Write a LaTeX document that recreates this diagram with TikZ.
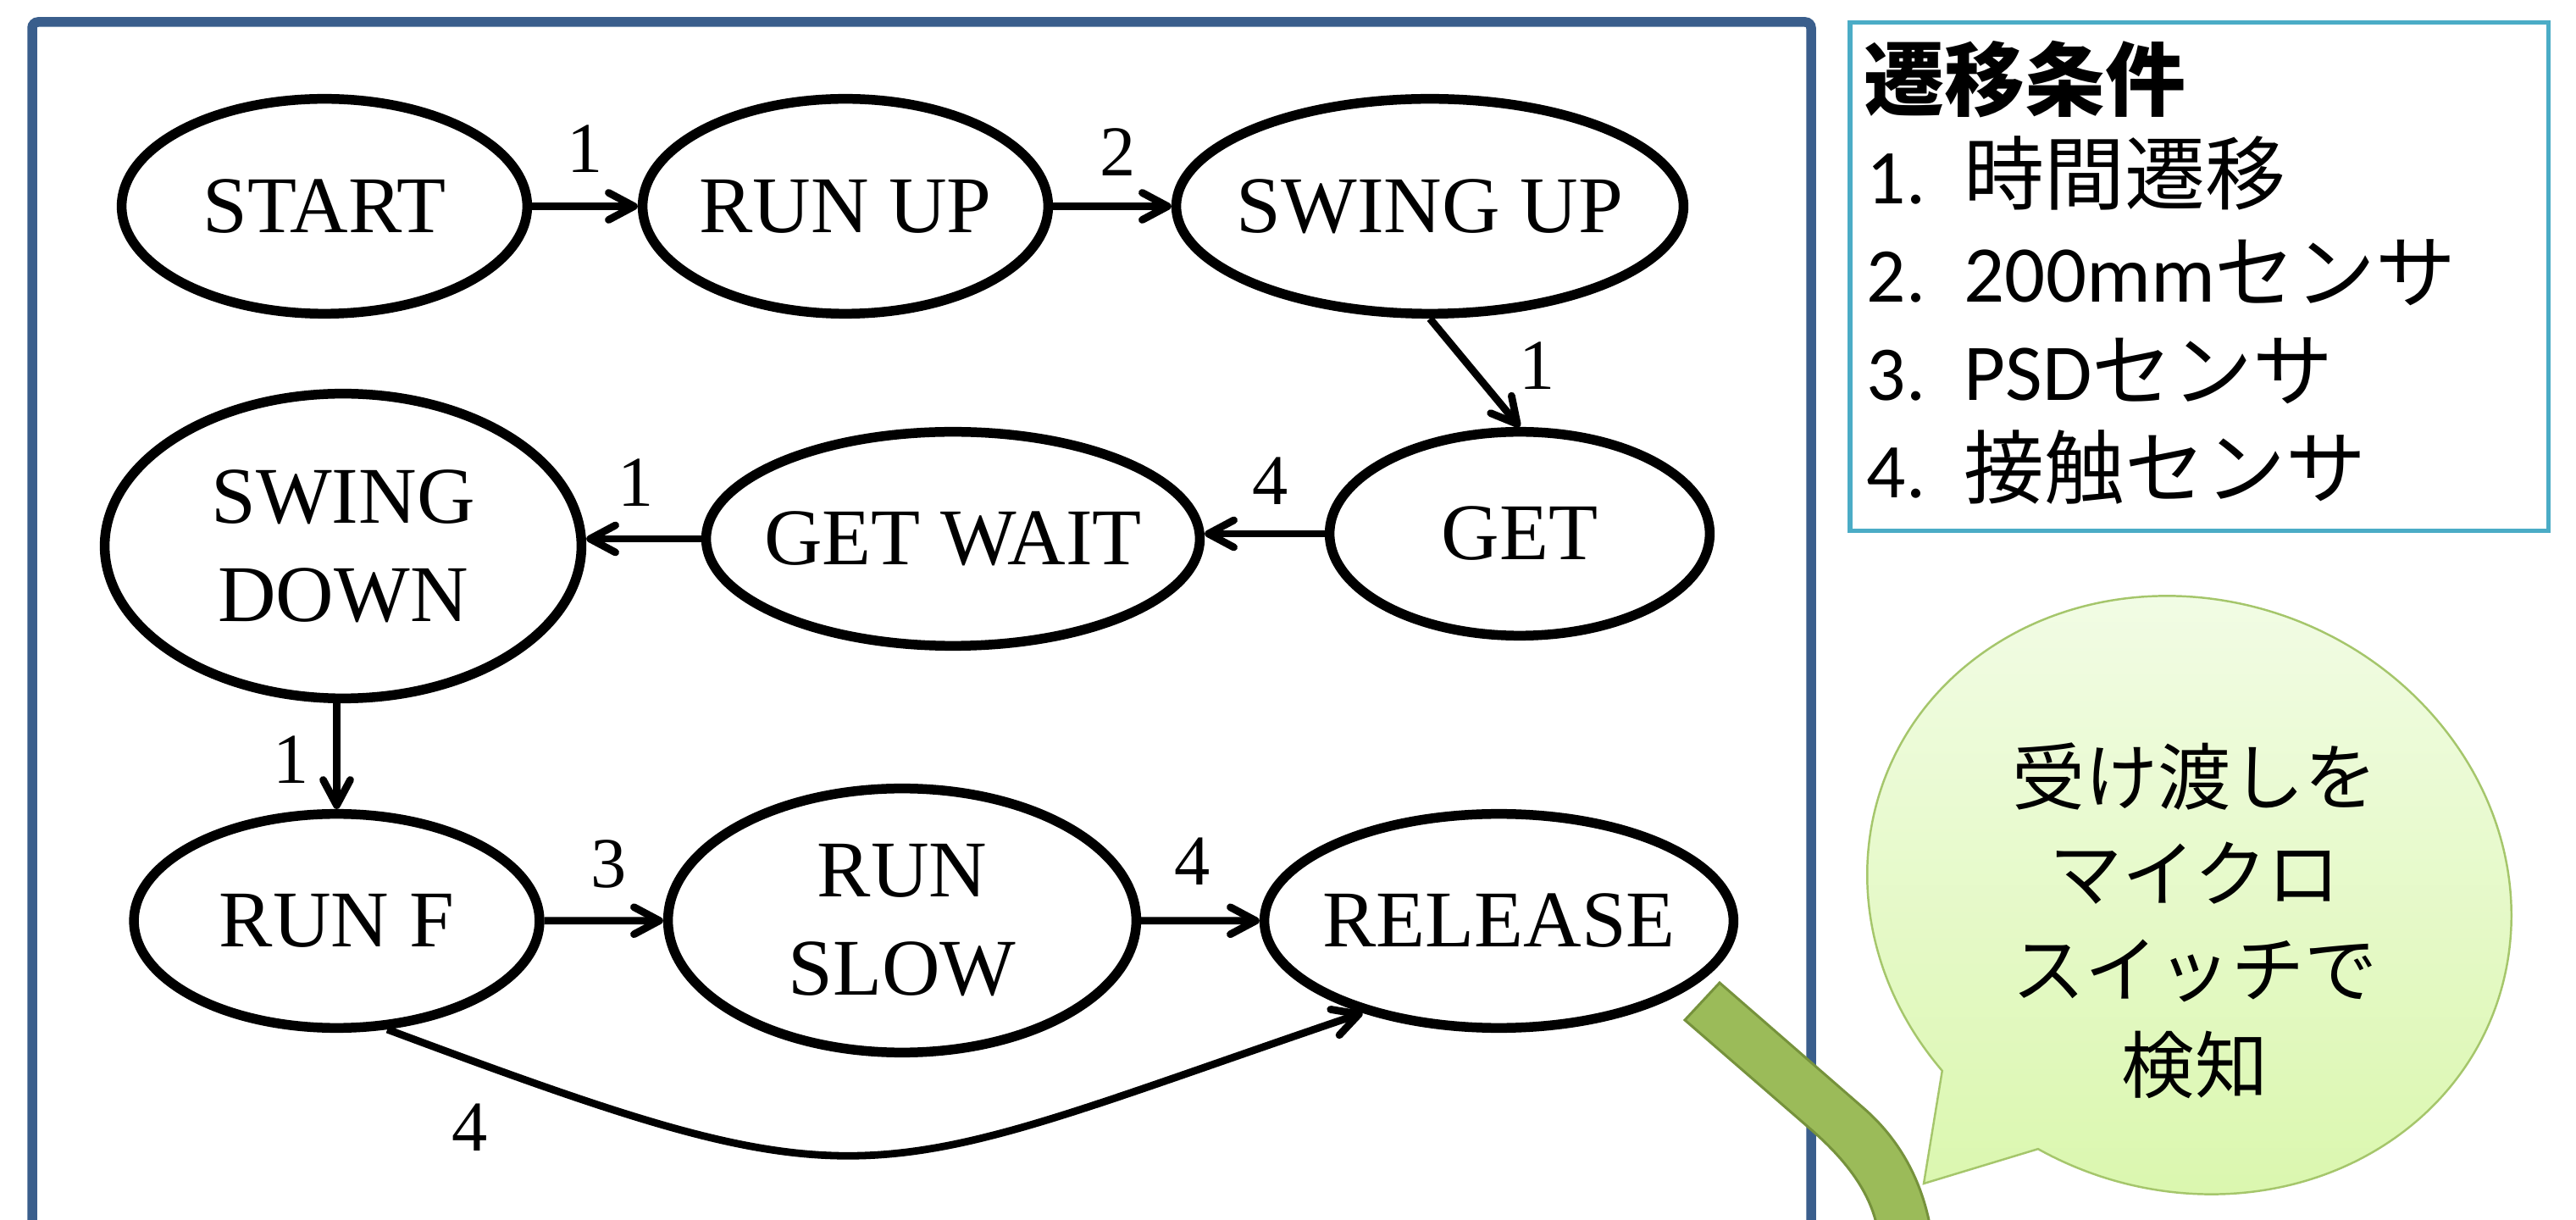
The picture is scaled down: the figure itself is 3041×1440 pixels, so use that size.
\documentclass[tikz,border=0pt]{standalone}
\usepackage{fontspec}
\setmainfont{Liberation Serif}
\newfontfamily\jpfont{Noto Sans CJK JP}
\newfontfamily\latinsans{Carlito}
\usetikzlibrary{shapes.geometric,arrows.meta}

\definecolor{framecol}{HTML}{3A5E8C}
\definecolor{legendcol}{HTML}{4BACC6}
\definecolor{bandfill}{HTML}{9BBB59}
\definecolor{banddraw}{HTML}{76923C}
\definecolor{bubbledraw}{HTML}{A5C66B}
\definecolor{bubbletop}{HTML}{F3FCE8}
\definecolor{bubblebottom}{HTML}{DAF7AD}

\begin{document}
\begin{tikzpicture}[
  x=0.01cm, y=-0.01cm,
  stnode/.style={ellipse, draw=black, line width=3.27pt, inner sep=0pt, fill=white},
  sttext/.style={font=\fontsize{27}{33}\selectfont, inner sep=0pt, align=center},
  condlbl/.style={font=\fontsize{24}{29}\selectfont, inner sep=0pt},
  transarrow/.style={line width=2.5pt, -{Straight Barb[length=0.3cm, width=0.32cm, round]}},
  legtitle/.style={anchor=base west, inner sep=0pt, font=\jpfont\bfseries\fontsize{27}{32}\selectfont},
  legnum/.style={anchor=base west, inner sep=0pt, font=\latinsans\fontsize{26}{32}\selectfont},
  legitem/.style={anchor=base west, inner sep=0pt, font=\jpfont\fontsize{27}{32}\selectfont},
]
\useasboundingbox (0,0) rectangle (3041,1440);
\fill[white] (0,0) rectangle (3041,1440);

% outer frame of the state diagram (continues below the page)
\draw[framecol, line width=3.27pt, rounded corners=2pt]
  (38,1520) -- (38,26) -- (2138,26) -- (2138,1520);

% states
\node[stnode, minimum width=4.785cm, minimum height=2.535cm,
      label={[sttext]center:START}] (start) at (383,243.5) {};
\node[stnode, minimum width=4.785cm, minimum height=2.535cm,
      label={[sttext]center:RUN UP}] (runup) at (998,243.5) {};
\node[stnode, minimum width=5.985cm, minimum height=2.535cm,
      label={[sttext]center:SWING UP}] (swingup) at (1688,243.5) {};
\node[stnode, minimum width=4.485cm, minimum height=2.405cm,
      label={[sttext]center:GET}] (get) at (1794,630) {};
\node[stnode, minimum width=5.825cm, minimum height=2.525cm,
      label={[sttext]center:GET WAIT}] (getwait) at (1125,636) {};
\node[stnode, minimum width=5.625cm, minimum height=3.595cm,
      label={[sttext]center:{SWING\\DOWN}}] (swingdown) at (405,644.5) {};
\node[stnode, minimum width=4.785cm, minimum height=2.525cm,
      label={[sttext]center:RUN F}] (runf) at (397.5,1087) {};
\node[stnode, minimum width=5.525cm, minimum height=3.115cm,
      label={[sttext]center:{RUN\\SLOW}}] (runslow) at (1065,1086.5) {};
\node[stnode, minimum width=5.535cm, minimum height=2.525cm,
      label={[sttext]center:RELEASE}] (release) at (1769.5,1087) {};

% transitions
\draw[transarrow] (start) -- (runup);
\draw[transarrow] (runup) -- (swingup);
\draw[transarrow] (swingup.south) -- (get.north);
\draw[transarrow] (get.west) -- (get.west -| getwait.east);
\draw[transarrow] (getwait.west) -- (getwait.west -| swingdown.east);
\draw[transarrow] (swingdown.south -| runf.north) -- (runf.north);
\draw[transarrow] (runf) -- (runslow);
\draw[transarrow] (runslow) -- (release);
\draw[transarrow] (runf.-65) .. controls (1042,1433) and (1009,1399) .. (release.214);

% transition conditions
\node[condlbl] (c1) at (691,176) {1};
\node[condlbl] (c2) at (1320,180) {2};
\node[condlbl] (c3) at (1815,432) {1};
\node[condlbl] (c4) at (1500,568) {4};
\node[condlbl] (c5) at (751,570) {1};
\node[condlbl] (c6) at (344,897) {1};
\node[condlbl] (c7) at (719,1020) {3};
\node[condlbl] (c8) at (1408,1017) {4};
\node[condlbl] (c9) at (554.5,1331) {4};

% legend
\node[draw=legendcol, line width=1.56pt, minimum width=8.24cm, minimum height=6.0cm,
      inner sep=0pt] (legend) at (2596,326.5) {};
\node[legtitle] (legt) at (2200,130) {遷移条件};
\node[legnum] (n1) at (2203,241) {1.};
\node[legitem] (i1) at (2318,241) {時間遷移};
\node[legnum] (n2) at (2203,357) {2.};
\node[legitem] (i2) at (2318,357) {{\latinsans 200mm}センサ};
\node[legnum] (n3) at (2203,473) {3.};
\node[legitem] (i3) at (2318,473) {{\latinsans PSD}センサ};
\node[legnum] (n4) at (2203,588) {4.};
\node[legitem] (i4) at (2318,588) {接触センサ};

% thick green pointer band
\path[fill=bandfill, draw=banddraw, line width=0.85pt]
  (2030,1160) -- (2200,1308) .. controls (2238,1341) and (2265,1385) .. (2277,1440)
  -- (2283,1480) -- (2220,1480) -- (2214,1440)
  .. controls (2203,1400) and (2175,1366) .. (2140,1335) -- (1989,1204) -- cycle;

% speech bubble
\coordinate (tailtip) at (2271,1397);
\begin{scope}[shift={(2584.5,1056.5)}, rotate=-21.4]
  \path[draw=bubbledraw, line width=0.7pt, top color=bubbletop, bottom color=bubblebottom]
    (120.6:385 and 348) arc[start angle=120.6, end angle=458.5, x radius=385, y radius=348]
    -- (tailtip) -- cycle;
\end{scope}
\node[font=\jpfont\fontsize{24.5}{32.2}\selectfont, align=center, inner sep=0pt]
  (bubbletext) at (2591,1087) {受け渡しを\\マイクロ\\スイッチで\\検知};
\end{tikzpicture}
\end{document}
